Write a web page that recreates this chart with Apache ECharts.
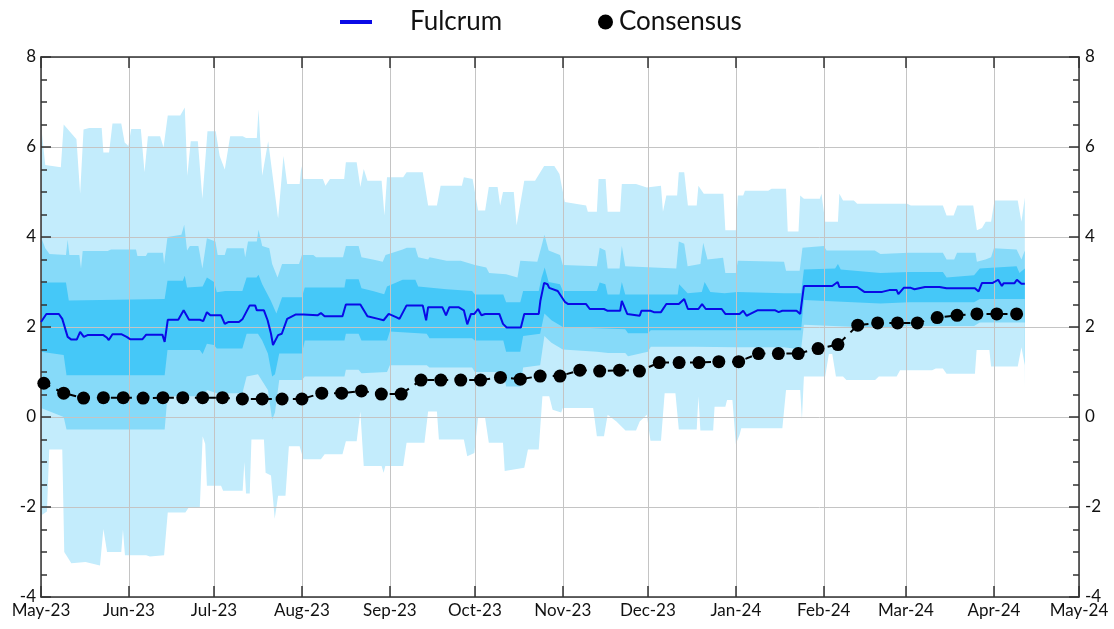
<!DOCTYPE html>
<html>
<head>
<meta charset="utf-8">
<script src="https://cdn.jsdelivr.net/npm/echarts@6/dist/echarts.min.js"></script>
<style>
  html, body { margin: 0; padding: 0; background: #fff; }
  #chart { width: 1114px; height: 629px; }
</style>
</head>
<body>
<div id="chart"></div>
<script>
// Fan chart: Fulcrum nowcast with its distribution bands, plus weekly consensus.
// Band edges and the central line are [days since 1 May 2023, value] pairs.

const outerUpper = [[0,6.5],[1.5,5.6],[7,5.55],[8,6.5],[12.5,6.17],[13.8,4.96],[15,6.39],[17,6.42],[21.4,6.42],[22,5.88],[24,5.88],[25.2,6.52],[28.3,6.52],[29.5,6.1],[30.8,6.02],[31.8,6.4],[35.2,6.4],[36.5,5.44],[37.7,6.24],[42,6.24],[43.2,5.99],[44.7,6.7],[49.1,6.7],[50.7,6.88],[51.6,5.36],[52.8,6.13],[55.3,6.13],[56.9,4.85],[58.7,6.35],[61.6,6.35],[63,5.8],[64.8,5.5],[66.7,6.24],[71.1,6.24],[72.3,6.2],[76.1,6.2],[76.7,6.84],[78,5.36],[80.1,6.13],[81.8,5.3],[83.6,4.41],[85.5,5.8],[86.8,5.18],[91.2,5.18],[91.8,5.58],[92.5,5.29],[99.4,5.29],[100.3,5.14],[101.9,5.29],[106.9,5.29],[107.5,5.66],[111.3,5.66],[112.6,5.11],[113.8,5.51],[115.1,5.25],[120.1,5.25],[121.1,4.48],[122,5.33],[127.7,5.33],[128.9,5.44],[134.6,5.44],[136.5,4.7],[139.6,4.7],[140.9,5.14],[148.4,5.14],[149.1,5.33],[152.2,5.29],[154.1,4.59],[156.6,4.59],[157.9,5.11],[161,5.11],[161.9,4.7],[162.9,5.0],[166.7,5.0],[167.7,4.26],[170.4,5.25],[174.2,5.25],[177.4,5.58],[181,5.58],[182.8,5.4],[184.7,4.78],[192.2,4.7],[192.8,4.56],[196,4.56],[196.6,5.29],[199.1,5.29],[199.8,4.56],[204.2,4.56],[204.8,5.18],[209.8,5.18],[213.6,5.1],[218.6,5.14],[219.3,4.56],[219.9,4.56],[220.5,4.92],[224.3,4.92],[224.9,5.44],[226.8,5.44],[228.1,4.7],[231.2,4.7],[231.8,5.14],[233.7,4.96],[240.6,4.96],[241.3,4.15],[245,4.15],[245.7,4.92],[247.6,4.92],[248.2,5.03],[256.4,5.03],[257.6,5.07],[262.7,5.07],[263.3,4.12],[267.1,4.12],[267.7,4.92],[269,4.85],[274.6,4.85],[275.2,4.96],[276.5,4.34],[281,4.34],[281.5,4.96],[282.8,4.81],[286.6,4.81],[287.8,4.74],[305.4,4.74],[306.7,4.7],[318,4.7],[319.3,4.48],[321.8,4.48],[323.1,4.7],[328.7,4.7],[330,4.15],[331.8,4.2],[333.1,4.34],[335,4.34],[336.2,4.81],[344.4,4.81],[345.7,4.34],[346.9,4.88]];

const midUpper = [[0,4.0],[1.5,3.75],[3,3.62],[8.8,3.6],[9.4,3.94],[10,3.6],[13.5,3.6],[14.1,3.3],[14.7,3.69],[23.5,3.69],[24.7,3.72],[33.5,3.72],[34,3.58],[37,3.58],[37.6,3.65],[43,3.65],[43.4,3.4],[44.6,4.0],[49.5,4.05],[50.5,4.27],[51.5,3.7],[52.5,3.8],[55.5,3.8],[56.9,3.3],[58.5,3.97],[61.5,3.9],[62.3,3.6],[64.8,3.6],[65.5,3.75],[71.5,3.75],[72,3.55],[73,3.9],[76.1,3.9],[76.7,4.16],[78,3.8],[80.5,3.75],[81.5,3.4],[83.4,3.1],[85,3.4],[91,3.4],[92,3.6],[96,3.6],[97,3.55],[106.5,3.55],[107.5,3.8],[112,3.8],[113,3.55],[117,3.5],[120.5,3.45],[121.5,3.6],[127.5,3.72],[129,3.76],[132,3.76],[133,3.55],[136.5,3.5],[137,3.55],[143,3.47],[148,3.47],[153,3.38],[157,3.32],[158,3.2],[164,3.17],[168,3.1],[169,3.47],[175,3.45],[176.5,3.8],[177.5,4.05],[179,3.7],[183,3.6],[184,3.38],[196,3.35],[197,3.76],[199,3.7],[199.8,3.3],[204,3.3],[204.8,3.8],[206,3.35],[224,3.3],[224.9,3.9],[226.8,3.85],[228,3.35],[232.5,3.4],[233.5,3.87],[235,3.5],[240.5,3.54],[241.3,3.2],[245,3.2],[245.7,3.47],[262,3.45],[262.7,3.25],[267.5,3.25],[268.5,3.76],[276,3.8],[277,3.7],[294,3.7],[296,3.62],[306,3.65],[318,3.65],[319.3,3.5],[322,3.5],[323,3.65],[329.5,3.65],[330,3.45],[333,3.5],[335,3.55],[336,3.75],[344,3.72],[345.7,3.5],[346.9,3.7]];

const innerUpper = [[0,2.99],[8.8,2.99],[9.8,2.59],[43.6,2.62],[44.6,3.03],[50,3.03],[50.7,3.14],[51.5,2.88],[57,2.9],[58.5,3.1],[61,3.0],[62,2.77],[65,2.8],[71,2.8],[72.5,3.1],[76,3.1],[76.7,3.16],[78,2.95],[81,2.59],[83,2.3],[85,2.66],[92,2.66],[93,2.88],[107,2.88],[107.5,3.06],[112,3.06],[113,2.86],[117,2.8],[121,2.73],[122,2.9],[127.5,3.05],[132,3.05],[133,2.9],[143,2.84],[152,2.8],[153,2.72],[163,2.72],[164,2.55],[169,2.55],[170,2.8],[175.5,2.8],[176.5,3.1],[177.6,3.32],[179,3.0],[183,2.95],[184,2.8],[196,2.8],[197,2.99],[199,2.95],[199.8,2.72],[204,2.72],[204.8,3.0],[206,2.72],[224.5,2.72],[225,2.95],[228,2.75],[233,2.78],[234,3.0],[236,2.78],[241,2.75],[245.5,2.78],[262,2.75],[268,2.75],[269,3.28],[280,3.3],[281,3.4],[282,3.28],[296,3.2],[306,3.22],[318,3.22],[319.3,3.1],[329,3.15],[331,3.3],[344,3.35],[345,3.2],[346.9,3.3]];

const innerLower = [[0,1.45],[8,1.38],[9,0.93],[43.6,0.93],[44.6,1.49],[56,1.49],[57,1.4],[58.5,1.63],[61,1.6],[62,1.52],[71,1.52],[72.5,1.85],[76.5,1.85],[78,1.7],[80,1.41],[81.5,0.9],[82.5,0.95],[84,1.41],[92,1.41],[93,1.7],[107,1.7],[107.5,1.85],[112,1.85],[113,1.7],[122,1.7],[123,1.9],[136,1.85],[137,1.75],[152,1.75],[153,1.7],[163,1.7],[164,1.45],[169,1.45],[170,1.8],[176,1.85],[177.5,2.3],[180,2.15],[184,2.0],[196,1.97],[206,1.95],[207,1.86],[214,1.86],[215,1.93],[245,1.93],[262,1.93],[268,1.93],[269,2.6],[296,2.52],[306,2.55],[329,2.55],[331,2.62],[346.9,2.62]];

const midLower = [[0,0.2],[8,0.0],[9,-0.28],[43.6,-0.28],[44.6,0.46],[56,0.46],[57,0.3],[58.5,0.6],[61,0.55],[62,0.53],[71,0.53],[72.5,0.9],[76.5,0.95],[78,0.8],[80,0.6],[81.5,-0.06],[82.5,0.1],[84,0.82],[92,0.82],[93,0.9],[107,0.9],[107.5,1.05],[112,1.05],[113,0.97],[122,1.0],[123,1.15],[136,1.15],[137,1.1],[152,1.1],[153,1.0],[163,1.0],[164,0.68],[169,0.68],[170,1.1],[176,1.15],[177.5,1.8],[180,1.65],[184,1.5],[196,1.45],[200,1.42],[206,1.42],[207,1.35],[214,1.45],[215,1.56],[230,1.56],[245,1.55],[262,1.55],[268,1.5],[269,2.05],[296,1.98],[306,2.02],[329,2.02],[331,2.1],[346.9,2.1]];

const outerLower = [[0,-2.19],[2.1,-2.1],[2.9,-0.72],[7.5,-0.72],[8.2,-3.0],[10.7,-3.25],[15.7,-3.22],[20.8,-3.3],[22,-2.49],[23.3,-3.0],[28.3,-3.0],[28.9,-2.5],[29.6,-3.07],[37.1,-3.07],[38.4,-3.1],[43.4,-3.07],[44.7,-2.12],[50.9,-2.12],[52.2,-2.0],[56,-2.0],[57,-0.43],[57.9,-0.6],[58.5,-1.53],[63.5,-1.53],[64.2,-1.64],[71.1,-1.64],[71.7,-1.0],[72.3,-1.7],[73.6,-1.7],[74.2,-0.5],[78.6,-0.5],[79.2,-1.24],[81.1,-1.3],[82.4,-2.26],[83.6,-1.75],[86.2,-1.75],[87.4,-0.65],[91.2,-0.65],[92.5,-0.94],[98.7,-0.94],[100,-0.83],[106.3,-0.83],[107.5,-0.54],[111.3,-0.54],[112.6,0.12],[113.8,-1.09],[120.1,-1.09],[120.8,-1.24],[121.4,-1.09],[127.7,-1.09],[128.9,-0.57],[135.2,-0.57],[136.5,0.12],[139.6,0.12],[140.3,-0.5],[149.1,-0.5],[150.3,-0.87],[152.8,-0.8],[154.1,-0.02],[156.6,-0.02],[157.9,-0.57],[162.9,-0.57],[163.5,-1.2],[170.4,-1.13],[171.7,-0.72],[175.5,-0.72],[176.8,0.46],[179.2,0.46],[180.4,0.16],[183.4,0.1],[184,0.2],[194.7,0.2],[196,-0.43],[198.5,-0.43],[199.8,0.05],[202.9,-0.1],[206.1,-0.3],[209.8,-0.3],[211.1,-0.1],[213.6,0.05],[214.9,-0.53],[218.6,-0.53],[219.9,0.53],[223.7,0.53],[224.9,-0.28],[231.2,-0.28],[231.8,0.46],[232.5,-0.3],[237,-0.3],[237.5,0.23],[241.3,0.23],[241.9,0.38],[243.8,0.38],[245,-0.6],[246.3,-0.4],[246.9,-0.25],[261.4,-0.25],[262.7,0.6],[267.7,0.6],[268.3,-0.06],[269,0.9],[276.5,0.9],[277.8,1.4],[279,1.4],[280.3,0.9],[282.8,0.9],[284,0.82],[294.1,0.82],[295.4,0.9],[301.7,0.9],[302.9,1.04],[314.2,1.04],[315.5,1.08],[318,1.08],[319.3,0.96],[329.3,0.96],[329.9,1.49],[334.4,1.49],[335,1.12],[344.4,1.12],[345.7,1.55],[346.9,1.15]];

const fulcrum = [[0,2.11],[1.9,2.29],[6.3,2.29],[7.5,2.18],[9.4,1.78],[10.7,1.72],[12.6,1.72],[13.8,1.89],[15.1,1.78],[16.4,1.82],[22,1.82],[23.3,1.76],[23.9,1.71],[25.2,1.84],[28.3,1.84],[28.9,1.88],[30.2,1.78],[31.4,1.73],[35.8,1.73],[37.1,1.83],[42.8,1.83],[43.6,1.67],[44.7,2.16],[48.4,2.16],[50.3,2.37],[50.9,2.37],[52.2,2.16],[56,2.16],[57.2,2.13],[58.5,2.33],[59.7,2.26],[63.5,2.26],[64.8,2.07],[66,2.11],[69.8,2.11],[71.1,2.18],[73.6,2.48],[75.5,2.48],[76.1,2.37],[78.6,2.37],[79.9,2.15],[81.1,1.85],[81.8,1.6],[82.4,1.6],[83.6,1.82],[84.9,1.85],[86.8,2.18],[89.9,2.28],[92.5,2.28],[93.1,2.26],[97.5,2.26],[98.7,2.31],[100,2.24],[106.3,2.24],[107.5,2.5],[112.6,2.5],[115.1,2.24],[118.9,2.18],[120.8,2.15],[122.6,2.29],[125.2,2.22],[126.4,2.18],[128.9,2.48],[134.6,2.48],[135.8,2.15],[136.5,2.44],[141.5,2.44],[142.8,2.26],[144,2.44],[147.2,2.44],[149.1,2.37],[150.3,2.06],[151.6,2.29],[152.8,2.29],[154.1,2.4],[155.3,2.26],[156.6,2.29],[161.6,2.29],[162.9,2.07],[164.2,1.99],[169.2,1.99],[170.4,2.29],[175.5,2.29],[176.1,2.59],[177.4,2.98],[178.6,2.95],[179.2,2.87],[182.2,2.8],[184.7,2.56],[185.9,2.51],[192.2,2.51],[193.5,2.4],[198.5,2.4],[199.8,2.36],[204.2,2.36],[204.8,2.58],[205.4,2.58],[206.7,2.29],[207.3,2.25],[211.1,2.25],[211.7,2.36],[214.9,2.36],[216.1,2.33],[218.6,2.33],[220.5,2.51],[224.9,2.51],[226.8,2.62],[228.1,2.4],[231.8,2.4],[233.1,2.51],[234.4,2.4],[240,2.4],[241.3,2.29],[246.3,2.29],[247.6,2.36],[248.8,2.25],[250.1,2.29],[252.6,2.37],[258.9,2.37],[260.1,2.33],[261.4,2.36],[266.4,2.36],[267.7,2.29],[269,2.91],[279,2.91],[280.9,3.0],[281.5,2.89],[287.8,2.89],[290.3,2.78],[296.6,2.78],[299.1,2.82],[301.7,2.82],[302.3,2.73],[304.2,2.87],[306.7,2.87],[308,2.84],[311.7,2.89],[316.8,2.89],[319.3,2.86],[329.3,2.86],[330.6,2.79],[331.8,2.98],[335.6,2.98],[337.5,3.05],[338.8,2.91],[339.4,2.97],[343.2,2.97],[344.1,3.05],[345.7,2.96],[346.9,2.96]];

// Weekly consensus readings, the first one on day 1 (2 May 2023)
const consensusFirstDay = 1;
const consensus = [0.75,0.53,0.42,0.43,0.43,0.42,0.43,0.43,0.43,0.43,0.40,0.40,0.40,0.40,0.53,0.53,0.58,0.51,0.51,0.82,0.82,0.82,0.82,0.88,0.84,0.91,0.91,1.04,1.02,1.04,1.02,1.21,1.21,1.21,1.23,1.23,1.41,1.41,1.41,1.52,1.61,2.04,2.09,2.09,2.09,2.21,2.26,2.29,2.29,2.29];

// Month starts as day offsets from 1 May 2023, and their labels
const monthDays = [0, 31, 61, 92, 123, 153, 184, 214, 245, 276, 305, 336, 366];
const monthLabels = ['May-23','Jun-23','Jul-23','Aug-23','Sep-23','Oct-23','Nov-23','Dec-23','Jan-24','Feb-24','Mar-24','Apr-24','May-24'];
const yTicks = { min: -4, max: 8, step: 2 };

const consensusData = consensus.map((v, i) => [consensusFirstDay + i * 7, v]);

const LIGHT = '#c3ecfc', MID = '#86daf9', DARK = '#45c8f8';
const FONT = 'Lato';
const AXIS_COL = '#333';
const GRID_COL = '#c4c4c4';

// Each band edge fills down to the axis floor; drawn in order they build the fan.
function layer(data, color) {
  return {
    type: 'line', data: data, symbol: 'none', silent: true, z: 1,
    lineStyle: { width: 0 }, areaStyle: { color: color, opacity: 1, origin: 'start' }
  };
}

// The white floor under the lowest edge runs a hair past the fan's last day so
// the anti-aliased right edges of the blue layers beneath it stay hidden.
function floorLayer(data) {
  const last = data[data.length - 1];
  return layer(data.concat([[last[0] + 0.6, last[1]]]), '#ffffff');
}

const monthLabel = v => {
  const i = monthDays.indexOf(Math.round(v));
  return i >= 0 ? monthLabels[i] : '';
};

const tickStyle = { color: AXIS_COL, width: 1.5 };

const chart = echarts.init(document.getElementById('chart'), null, { renderer: 'canvas' });

chart.setOption({
  animation: false,
  backgroundColor: '#fff',
  textStyle: { fontFamily: FONT },
  grid: { left: 41, right: 35, top: 57, bottom: 32, containLabel: false, outerBoundsMode: 'none' },
  legend: [
    { data: [{ name: 'Fulcrum', icon: 'rect' }], left: 335, top: 4, itemWidth: 32, itemHeight: 4,
      textStyle: { fontSize: 26, color: '#111', fontFamily: FONT, padding: [0, 0, 0, 33] } },
    { data: [{ name: 'Consensus', icon: 'circle' }], left: 593, top: 4, itemWidth: 15, itemHeight: 15,
      textStyle: { fontSize: 26, color: '#111', fontFamily: FONT, padding: [0, 0, 0, 1] } }
  ],
  xAxis: [
    {
      type: 'value', min: monthDays[0], max: monthDays[monthDays.length - 1], z: 3,
      axisLine: { onZero: false, lineStyle: tickStyle },
      axisTick: { show: true, inside: true, length: 11, customValues: monthDays, lineStyle: tickStyle },
      axisLabel: { customValues: monthDays, formatter: monthLabel, fontSize: 17, color: '#111', fontFamily: FONT, margin: 5 },
      splitLine: { show: true, lineStyle: { color: GRID_COL, width: 1 } }
    },
    {
      type: 'value', position: 'top', min: monthDays[0], max: monthDays[monthDays.length - 1], z: 3,
      axisLine: { onZero: false, lineStyle: tickStyle },
      axisTick: { show: true, inside: true, length: 11, customValues: monthDays, lineStyle: tickStyle },
      axisLabel: { show: false },
      splitLine: { show: false }
    }
  ],
  yAxis: [
    {
      type: 'value', min: yTicks.min, max: yTicks.max, interval: yTicks.step, z: 3,
      axisLine: { show: true, onZero: false, lineStyle: tickStyle },
      axisTick: { show: true, inside: true, length: 10, lineStyle: tickStyle },
      minorTick: { show: true, splitNumber: 4, length: 6, lineStyle: tickStyle },
      axisLabel: { fontSize: 17, color: '#111', fontFamily: FONT, margin: 5 },
      splitLine: { show: true, lineStyle: { color: GRID_COL, width: 1 } }
    },
    {
      type: 'value', position: 'right', min: yTicks.min, max: yTicks.max, interval: yTicks.step, z: 3,
      axisLine: { show: true, onZero: false, lineStyle: tickStyle },
      axisTick: { show: true, inside: true, length: 10, lineStyle: tickStyle },
      minorTick: { show: true, splitNumber: 4, length: 6, lineStyle: tickStyle },
      axisLabel: { fontSize: 17, color: '#111', fontFamily: FONT, margin: 6 },
      splitLine: { show: false }
    }
  ],
  series: [
    layer(outerUpper, LIGHT),
    layer(midUpper, MID),
    layer(innerUpper, DARK),
    layer(innerLower, MID),
    layer(midLower, LIGHT),
    floorLayer(outerLower),
    {
      name: 'Fulcrum', type: 'line', data: fulcrum, symbol: 'none', z: 5,
      color: '#0a0ae6', lineStyle: { color: '#0a0ae6', width: 2 }
    },
    {
      name: 'Consensus', type: 'line', data: consensusData, z: 6,
      symbol: 'circle', symbolSize: 13, showSymbol: true,
      color: '#000', itemStyle: { color: '#000' },
      lineStyle: { color: '#000', width: 2, type: [7, 7] }
    }
  ]
});
</script>
</body>
</html>
